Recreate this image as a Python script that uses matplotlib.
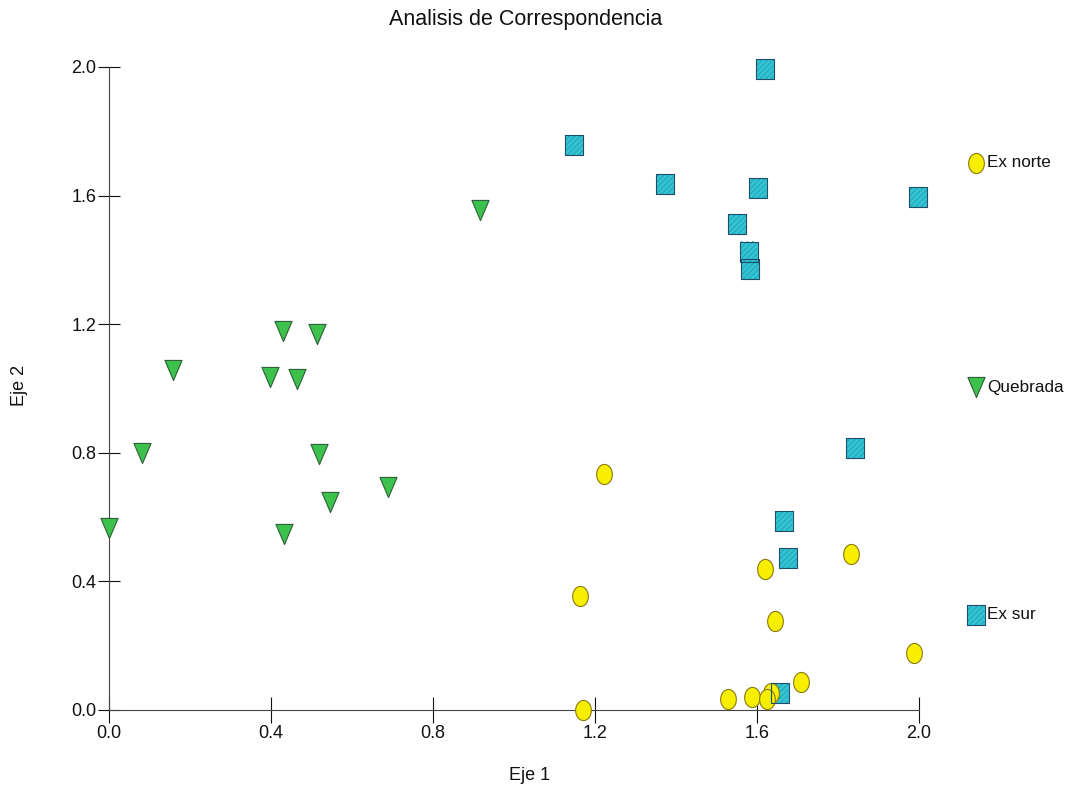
import matplotlib
matplotlib.use("Agg")
import matplotlib.pyplot as plt
import numpy as np
from matplotlib.path import Path

plt.rcParams["font.family"] = ["Liberation Sans", "DejaVu Sans"]

# Ex norte (circles)
norte_x = [1.222, 1.163, 1.170, 1.620, 1.644, 1.831, 1.987, 1.709, 1.528, 1.587, 1.635, 1.624]
norte_y = [0.734, 0.355, 0.000, 0.440, 0.276, 0.486, 0.176, 0.088, 0.033, 0.041, 0.052, 0.033]

# Quebrada (down triangles)
queb_x = [0.000, 0.081, 0.159, 0.429, 0.513, 0.398, 0.465, 0.519, 0.690, 0.546, 0.432, 0.916]
queb_y = [0.566, 0.800, 1.058, 1.180, 1.168, 1.037, 1.028, 0.796, 0.693, 0.646, 0.546, 1.555]

# Ex sur (squares)
sur_x = [1.620, 1.148, 1.373, 1.602, 1.551, 1.579, 1.583, 1.998, 1.842, 1.666, 1.677, 1.656]
sur_y = [1.994, 1.757, 1.636, 1.623, 1.511, 1.426, 1.372, 1.596, 0.815, 0.588, 0.474, 0.054]

groups = ["Ex norte", "Quebrada", "Ex sur"]
ticks = [0.0, 0.4, 0.8, 1.2, 1.6, 2.0]

# markers a bit taller than wide
t = np.linspace(0, 2 * np.pi, 60)
ellipse = Path(np.column_stack([0.78 * np.cos(t), np.sin(t)]), closed=True)
rect = Path([(-0.85, -1), (0.85, -1), (0.85, 1), (-0.85, 1), (-0.85, -1)], closed=True)
tri = Path([(-0.85, 1), (0.85, 1), (0, -1), (-0.85, 1)], closed=True)

fig = plt.figure(figsize=(10.69, 7.9), dpi=100)
ax = fig.add_axes([0.102, 0.1013, 0.7577, 0.8139])

ms = 14.5


def draw(ax, x, y, marker, face, edge, hatch=None, hatchcol=None, **kw):
    if hatch:
        ax.plot(x, y, ls="none", marker=marker, ms=ms, mfc=face, mec=hatchcol,
                mew=0, clip_on=False, zorder=3, **kw)
        ax.scatter(x, y, marker=marker, s=ms ** 2, facecolor="none",
                   edgecolor=hatchcol, hatch=hatch, linewidths=0,
                   clip_on=False, zorder=3.1, **kw)
    ax.plot(x, y, ls="none", marker=marker, ms=ms,
            mfc=("none" if hatch else face), mec=edge, mew=0.8,
            clip_on=False, zorder=3.2, **kw)


plt.rcParams["hatch.linewidth"] = 0.6
draw(ax, queb_x, queb_y, tri, "#3cc24c", "#2e5f3a")
draw(ax, norte_x, norte_y, ellipse, "#f7ee00", "#8a7a10")
draw(ax, sur_x, sur_y, rect, "#35c3d2", "#1f4e6a", hatch="//////", hatchcol="#1aa2b6")

# legend entries on the right
leg_y = [0.851, 0.502, 0.148]
draw(ax, [1.070], [leg_y[0]], ellipse, "#f7ee00", "#8a7a10", transform=ax.transAxes)
draw(ax, [1.070], [leg_y[1]], tri, "#3cc24c", "#2e5f3a", transform=ax.transAxes)
draw(ax, [1.070], [leg_y[2]], rect, "#35c3d2", "#1f4e6a", hatch="//////",
     hatchcol="#1aa2b6", transform=ax.transAxes)
for name, yy in zip(groups, leg_y):
    ax.text(1.084, yy, name, transform=ax.transAxes, ha="left", va="center",
            fontsize=12.3, color="#111111")

ax.set_xlim(0, 2)
ax.set_ylim(0, 2)
ax.set_xticks(ticks)
ax.set_yticks(ticks)
ax.set_xticklabels([f"{v:.1f}" for v in ticks])
ax.set_yticklabels([f"{v:.1f}" for v in ticks])
ax.tick_params(axis="x", direction="inout", length=19, width=0.8, pad=1,
               labelsize=13, colors="#111111")
ax.tick_params(axis="y", direction="inout", length=16, width=0.8, pad=1,
               labelsize=13, colors="#111111")
for s in ["top", "right"]:
    ax.spines[s].set_visible(False)
for s in ["left", "bottom"]:
    ax.spines[s].set_linewidth(0.8)
    ax.spines[s].set_color("#444444")

fig.text(526 / 1069, 1 - 20 / 790, "Analisis de Correspondencia",
         ha="center", va="center", fontsize=15.5, color="#111111")
fig.text(530 / 1069, 1 - 775 / 790, "Eje 1", ha="center", va="center",
         fontsize=13, color="#111111")
fig.text(19 / 1069, 1 - 385 / 790, "Eje 2", ha="center", va="center",
         rotation=90, fontsize=13, color="#111111")

fig.savefig("out.png", dpi=100)
